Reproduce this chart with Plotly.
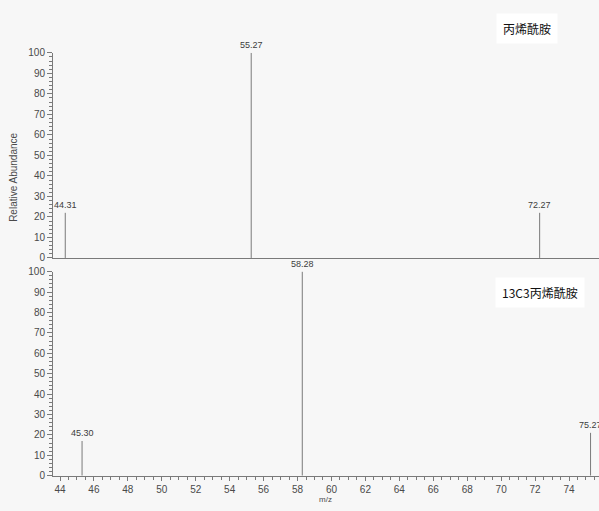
import plotly.graph_objects as go

# Peak lists (m/z, relative abundance %)
top_mz = [44.31, 55.27, 72.27]
top_ab = [22, 100, 22]
bottom_mz = [45.30, 58.28, 75.27]
bottom_ab = [17, 100, 21]

top_title = "丙烯酰胺"
bottom_title = "13C3丙烯酰胺"

W, H = 599, 511
LINE = "#7a7a7a"
TXT = "#4a4a4a"
FONT = "Liberation Sans, Arial, sans-serif"
CJK = "Noto Sans CJK SC, sans-serif"


def px_x(p):
    return p / W


def px_y(p):
    return 1 - p / H


def sticks(mz, ab):
    xs, ys = [], []
    for m, a in zip(mz, ab):
        xs += [m, m, None]
        ys += [0, a, None]
    return xs, ys


fig = go.Figure()

tx, ty = sticks(top_mz, top_ab)
fig.add_trace(go.Scatter(x=tx, y=ty, mode="lines", line=dict(color=LINE, width=1),
                         xaxis="x", yaxis="y", hoverinfo="skip", showlegend=False))
bx, by = sticks(bottom_mz, bottom_ab)
fig.add_trace(go.Scatter(x=bx, y=by, mode="lines", line=dict(color=LINE, width=1),
                         xaxis="x2", yaxis="y2", hoverinfo="skip", showlegend=False))

# x scale: 44 at px 60, 74 at px 569
ppu = (569 - 60) / 30
x0 = 44 - (60 - 53) / ppu
x1 = 74 + (W - 569) / ppu
xdom = [px_x(53), 1]

yaxis_common = dict(
    range=[0, 100], dtick=10, ticks="outside", ticklen=5, tickcolor=LINE,
    showline=True, linecolor=LINE, linewidth=1, showgrid=False, zeroline=False,
    tickfont=dict(family=FONT, size=10, color=TXT),
    minor=dict(dtick=2, ticks="outside", ticklen=3, tickcolor=LINE),
)

peak_font = dict(family=FONT, size=9, color="#3c3c3c")
annotations = []
for m, a in zip(top_mz, top_ab):
    annotations.append(dict(x=m, y=a, xref="x", yref="y", text=f"{m:.2f}", showarrow=False,
                            xanchor="center", yanchor="bottom", yshift=1, font=peak_font))
for m, a in zip(bottom_mz, bottom_ab):
    annotations.append(dict(x=m, y=a, xref="x2", yref="y2", text=f"{m:.2f}", showarrow=False,
                            xanchor="center", yanchor="bottom", yshift=1, font=peak_font))

annotations += [
    dict(x=px_x(14), y=px_y(176), xref="paper", yref="paper", text="Relative Abundance",
         textangle=-90, showarrow=False, xanchor="center", yanchor="middle",
         font=dict(family=FONT, size=10, color=TXT)),
    dict(x=px_x(325), y=px_y(505), xref="paper", yref="paper", text="m/z",
         showarrow=False, xanchor="center", yanchor="middle",
         font=dict(family=FONT, size=8, color=TXT)),
    dict(x=px_x(527), y=px_y(23), xref="paper", yref="paper", text=top_title,
         showarrow=False, xanchor="center", yanchor="middle", bgcolor="white", borderpad=6,
         font=dict(family=CJK, size=12, color="#111")),
    dict(x=px_x(540), y=px_y(293), xref="paper", yref="paper", text=bottom_title,
         showarrow=False, xanchor="center", yanchor="middle", bgcolor="white", borderpad=6,
         font=dict(family=CJK, size=12, color="#111")),
]

fig.update_layout(
    width=W, height=H,
    margin=dict(l=0, r=0, t=0, b=0),
    paper_bgcolor="#f7f7f7",
    plot_bgcolor="rgba(0,0,0,0)",
    xaxis=dict(domain=xdom, range=[x0, x1], anchor="y", showline=True, linecolor=LINE,
               showticklabels=False, ticks="", showgrid=False, zeroline=False),
    yaxis=dict(domain=[px_y(258), px_y(48)], anchor="x", **yaxis_common),
    xaxis2=dict(domain=xdom, range=[x0, x1], anchor="y2", showline=True, linecolor=LINE,
                dtick=2, tick0=44, ticks="outside", ticklen=4, tickcolor=LINE,
                showgrid=False, zeroline=False,
                tickfont=dict(family=FONT, size=10, color=TXT),
                minor=dict(dtick=0.5, ticks="outside", ticklen=3, tickcolor=LINE)),
    yaxis2=dict(domain=[px_y(481), px_y(272)], anchor="x2", **yaxis_common),
    annotations=annotations,
)

fig.write_html("out.html")
